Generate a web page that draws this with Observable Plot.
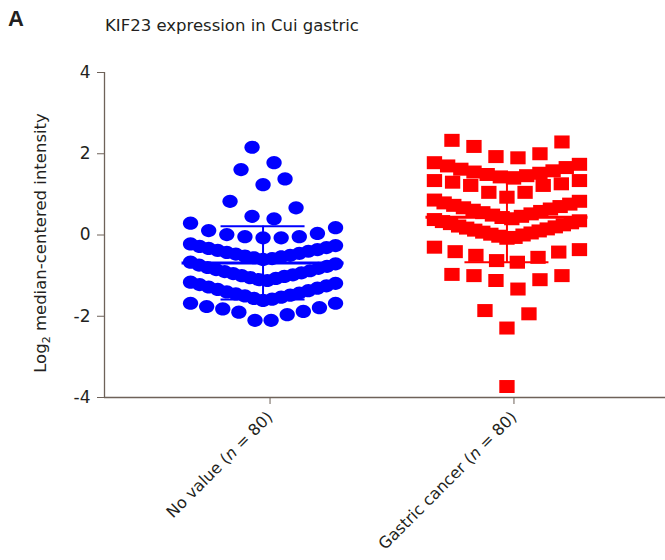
<!DOCTYPE html>
<html><head><meta charset="utf-8">
<script src="https://cdn.jsdelivr.net/npm/d3@7"></script>
<script src="https://cdn.jsdelivr.net/npm/@observablehq/plot@0.6"></script>
<style>
body{margin:0;background:#fff;}
#wrap{position:relative;width:665px;height:560px;font-family:"DejaVu Sans",sans-serif;color:#231f20;}
#panel{position:absolute;left:8px;top:6px;font:bold 22px "Liberation Sans",Arial,sans-serif;}
#title{position:absolute;left:105px;top:16px;font-size:16.5px;white-space:nowrap;}
</style></head><body>
<div id="wrap"><div id="chart"></div><div id="panel">A</div><div id="title">KIF23 expression in Cui gastric</div></div>
<script>
// ---- data ----
const categories = ["No value", "Gastric cancer"];
const counts = [80, 80];
const colors = ["#0000ff", "#ff0000"];
const yTicks = [-4, -2, 0, 2, 4];
const yLabelMain = "Log";
const yLabelSub = "2";
const yLabelRest = " median-centered intensity";

const noValue = [
  0.40, 0.46, 0.67, 0.83, 1.24, 1.38, 1.61, 1.78, 2.16,
  0.29, 0.11, 0.01, -0.04, -0.07, -0.07, -0.04, 0.04, 0.18,
  -0.60, -0.58, -0.56, -0.54, -0.52, -0.50, -0.47, -0.45, -0.43, -0.40, -0.38, -0.36, -0.33, -0.31, -0.28, -0.26, -0.22,
  -1.12, -1.10, -1.07, -1.05, -1.02, -1.00, -0.98, -0.95, -0.93, -0.90, -0.88, -0.85, -0.82, -0.80, -0.77, -0.74, -0.71, -0.67,
  -1.61, -1.58, -1.56, -1.53, -1.50, -1.48, -1.45, -1.43, -1.40, -1.37, -1.34, -1.31, -1.28, -1.25, -1.22, -1.19, -1.16,
  -1.68, -1.79, -1.88, -1.96, -2.10, -2.10, -1.90, -1.82, -1.76, -1.68
];
const gastricCancer = [
  2.29, 2.00, 1.90, 1.93, 2.18, 2.33,
  1.40, 1.43, 1.46, 1.49, 1.52, 1.55, 1.58, 1.62, 1.66, 1.70, 1.74, 1.78,
  1.34, 1.30, 1.22, 1.05, 0.93, 1.05, 1.22, 1.26, 1.34,
  0.40, 0.43, 0.46, 0.49, 0.52, 0.55, 0.58, 0.61, 0.64, 0.67, 0.70, 0.73, 0.76, 0.79, 0.83, 0.86,
  -0.08, -0.06, -0.03, 0.00, 0.02, 0.05, 0.07, 0.10, 0.12, 0.15, 0.17, 0.20, 0.22, 0.25, 0.28, 0.30, 0.33, 0.35, 0.38,
  -0.30, -0.41, -0.50, -0.63, -0.67, -0.55, -0.42, -0.36,
  -1.00, -1.10, -1.33, -1.12, -1.00, -0.97,
  -1.94, -1.86, -2.29,
  -3.73
];
const groups = [noValue, gastricCancer];

// ---- layout ----
const W = 665, H = 560, mL = 104, mR = 0, mT = 72, mB = 163;
const xDomain = [-0.65, 1.65];
const pxPerUnit = (W - mL - mR) / (xDomain[1] - xDomain[0]);
const binWidth = 0.465, maxSpan = 145, maxStep = 22;
const axisColor = "#6e6259", textColor = "#231f20";

function columnScatter(values, g) {
  const sorted = values.map(v => v).sort((a, b) => a - b);
  const rows = [];
  let cur = null;
  for (const v of sorted) {
    if (!cur || v > cur.start + binWidth) { cur = {start: v, items: []}; rows.push(cur); }
    cur.items.push(v);
  }
  const out = [];
  for (const row of rows) {
    const k = row.items.length;
    const step = k > 1 ? Math.min(maxStep, maxSpan / (k - 1)) : 0;
    const slots = d3.range(k).map(j => j - (k - 1) / 2)
      .sort((a, b) => Math.abs(a) - Math.abs(b) || b - a);
    row.items.forEach((v, j) => out.push({g, value: v, x: g + slots[j] * step / pxPerUnit}));
  }
  return out;
}
const points = groups.map((vals, g) => columnScatter(vals, g));
const stats = groups.map((vals, g) => ({g, mean: d3.mean(vals), sd: d3.deviation(vals)}));
const meanHalf = 81 / pxPerUnit, capHalf = 42 / pxPerUnit;

const ellipseSym = {draw(ctx, size) {
  const r = Math.sqrt(size / Math.PI), rx = r * 1.16, ry = r, k = 0.5523;
  ctx.moveTo(rx, 0);
  ctx.bezierCurveTo(rx, ry * k, rx * k, ry, 0, ry);
  ctx.bezierCurveTo(-rx * k, ry, -rx, ry * k, -rx, 0);
  ctx.bezierCurveTo(-rx, -ry * k, -rx * k, -ry, 0, -ry);
  ctx.bezierCurveTo(rx * k, -ry, rx, -ry * k, rx, 0);
  ctx.closePath();
}};
const rectSym = {draw(ctx, size) {
  const r = Math.sqrt(size / Math.PI), hw = r * 1.18, hh = r;
  ctx.rect(-hw, -hh, 2 * hw, 2 * hh);
}};
const syms = [ellipseSym, rectSym];
const radii = [6.6, 6.5];

const marks = [
  Plot.ruleX([xDomain[0]], {stroke: axisColor, strokeWidth: 1.3}),
  Plot.ruleY([-4], {stroke: axisColor, strokeWidth: 1.3}),
  Plot.axisY({ticks: yTicks, tickFormat: d => String(d), tickSize: 7, tickPadding: 7, fontSize: 17,
    label: null, stroke: axisColor, fill: textColor}),
  Plot.axisX({ticks: [0, 1], tickFormat: i => `${categories[i]} (n = ${counts[i]})`, tickRotate: -45,
    tickSize: 7, tickPadding: 10, dx: 7, fontSize: 16, label: null, stroke: axisColor, fill: textColor})
];
groups.forEach((vals, g) => {
  marks.push(Plot.dot(points[g], {x: "x", y: "value", r: radii[g], fill: colors[g], symbol: syms[g]}));
  const s = [stats[g]];
  marks.push(Plot.ruleX(s, {x: "g", y1: d => d.mean - d.sd, y2: d => d.mean + d.sd, stroke: colors[g], strokeWidth: 2}));
  marks.push(Plot.ruleY(s, {y: d => d.mean + d.sd, x1: d => d.g - capHalf, x2: d => d.g + capHalf, stroke: colors[g], strokeWidth: 2}));
  marks.push(Plot.ruleY(s, {y: d => d.mean - d.sd, x1: d => d.g - capHalf, x2: d => d.g + capHalf, stroke: colors[g], strokeWidth: 2}));
  marks.push(Plot.ruleY(s, {y: "mean", x1: d => d.g - meanHalf, x2: d => d.g + meanHalf, stroke: colors[g], strokeWidth: 3}));
});

const chart = Plot.plot({
  width: W, height: H,
  marginLeft: mL, marginRight: mR, marginTop: mT, marginBottom: mB,
  style: {fontFamily: "DejaVu Sans, sans-serif", color: textColor, background: "#fff", overflow: "visible"},
  x: {type: "linear", domain: xDomain, axis: null},
  y: {domain: [-4, 4], axis: null},
  marks
});
document.getElementById("chart").appendChild(chart);

const svg = d3.select(chart);
// italic n in x tick labels
svg.selectAll('g[aria-label="x-axis tick label"] text').each(function() {
  const t = d3.select(this);
  const full = t.text();
  const m = full.match(/^(.*\()n( = .*)$/);
  if (!m) return;
  t.text(null);
  t.append("tspan").text(m[1]);
  t.append("tspan").attr("font-style", "italic").text("n");
  t.append("tspan").text(m[2]);
});
// y-axis title with subscript
const yl = svg.append("text")
  .attr("transform", "translate(46,243) rotate(-90)")
  .attr("text-anchor", "middle")
  .attr("fill", textColor)
  .attr("font-size", 16.5);
yl.append("tspan").text(yLabelMain);
yl.append("tspan").attr("font-size", 11).attr("dy", 4).text(yLabelSub);
yl.append("tspan").attr("dy", -4).text(yLabelRest);
</script>
</body></html>
